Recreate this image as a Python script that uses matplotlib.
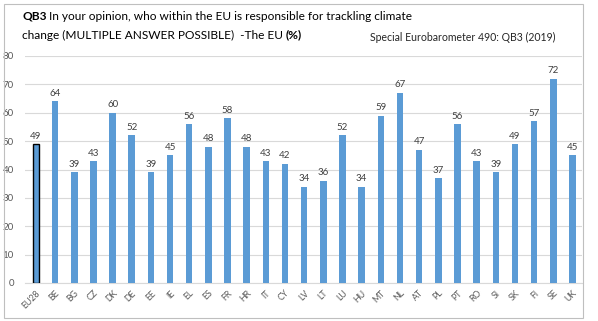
import matplotlib
matplotlib.use("Agg")
import matplotlib.pyplot as plt
from matplotlib.patches import Rectangle

countries = ["EU28", "BE", "BG", "CZ", "DK", "DE", "EE", "IE", "EL", "ES", "FR", "HR",
             "IT", "CY", "LV", "LT", "LU", "HU", "MT", "NL", "AT", "PL", "PT", "RO",
             "SI", "SK", "FI", "SE", "UK"]
values = [49, 64, 39, 43, 60, 52, 39, 45, 56, 48, 58, 48,
          43, 42, 34, 36, 52, 34, 59, 67, 47, 37, 56, 43,
          39, 49, 57, 72, 45]
y_ticks = [0, 10, 20, 30, 40, 50, 60, 70, 80]

plt.rcParams["font.family"] = ["Lato", "DejaVu Sans"]

W, H = 598, 321
fig = plt.figure(figsize=(W / 100, H / 100), dpi=100)
fig.patch.set_facecolor("white")

# outer frame
fig.add_artist(Rectangle((4 / W, 1 - 318 / H), 579 / W, 314 / H,
                         transform=fig.transFigure, fill=False,
                         edgecolor="#BFBFBF", linewidth=0.8))

ax = fig.add_axes([25 / W, 1 - 283 / H, 557 / W, 227 / H])
blue = "#5B9BD5"
x = list(range(len(countries)))
bars = ax.bar(x, values, width=0.34, color=blue, zorder=3)
bars[0].set_edgecolor("black")
bars[0].set_linewidth(1.0)

for xi, v in zip(x, values):
    ax.text(xi, v + 1.2, str(v), ha="center", va="bottom",
            fontsize=7, color="#404040")

ax.set_ylim(0, 80)
ax.set_xlim(-0.57, len(countries) - 0.5)
ax.set_yticks(y_ticks)
ax.set_yticklabels([str(t) for t in y_ticks], fontsize=7, color="#595959")
ax.set_xticks(x)
ax.set_xticklabels(countries, rotation=45, ha="right", rotation_mode="anchor",
                   fontsize=6.3, color="#595959")
ax.tick_params(axis="both", length=0, pad=4)
ax.tick_params(axis="y", pad=8)
ax.grid(axis="y", color="#D9D9D9", linewidth=0.8, zorder=0)
for s in ["top", "right", "left"]:
    ax.spines[s].set_visible(False)
ax.spines["bottom"].set_color("#D9D9D9")
ax.spines["bottom"].set_linewidth(0.8)

# title, bold and regular runs chained one after another
fs = 8.6
t1 = fig.text(22 / W, 1 - 16 / H, "QB3", fontsize=fs, fontweight="bold",
              va="center", ha="left", color="black")
fig.canvas.draw()
ax.annotate(" In your opinion, who within the EU is responsible for trackling climate",
            xy=(1, 0.5), xycoords=t1, va="center", ha="left",
            fontsize=fs, color="black", annotation_clip=False)
t3 = fig.text(22 / W, 1 - 35 / H, "change (MULTIPLE ANSWER POSSIBLE)  -The EU ",
              fontsize=fs, va="center", ha="left", color="black")
ax.annotate("(%)", xy=(1, 0.5), xycoords=t3, va="center", ha="left",
            fontsize=fs, fontweight="bold", color="black", annotation_clip=False)
fig.text(370 / W, 1 - 37 / H, "Special Eurobarometer 490: QB3 (2019)",
         fontsize=7.6, va="center", ha="left", color="#262626")

fig.savefig("out.png", dpi=100, facecolor="white")
